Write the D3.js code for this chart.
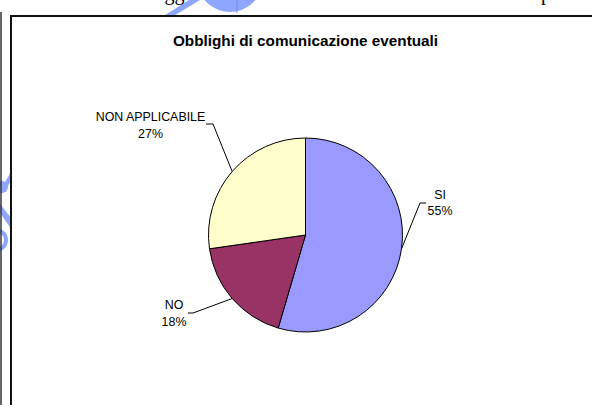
<!DOCTYPE html>
<html>
<head>
<meta charset="utf-8">
<script src="https://cdn.jsdelivr.net/npm/d3@7"></script>
<style>
html,body{margin:0;padding:0;background:#fff;}
svg{display:block;}
</style>
</head>
<body>
<svg id="chart" width="592" height="405"></svg>
<script>
// ---- data ----
const categories = ["SI", "NO", "NON APPLICABILE"];
const values = [6, 2, 3];
const colors = ["#9999FF", "#993366", "#FFFFCC"];
const title = "Obblighi di comunicazione eventuali";

// ---- layout ----
const W = 592, H = 405;
const cx = 305.5, cy = 235, R = 97;
// elbow offsets of leader lines (relative to pie centre) and label placement
const labelLayout = [
  {ex: 114.5, ey: -32, hx: 6,  tx: 20,  t1: -4, t2: 12},
  {ex: -112.5, ey: 78, hx: -5, tx: -19, t1: -4, t2: 13},
  {ex: -92.5, ey: -111, hx: -7, tx: -62.5, t1: -3, t2: 14}
];

const svg = d3.select("#chart");
svg.append("rect").attr("width", W).attr("height", H).attr("fill", "#fff");

// background document fragments (watermark + clipped text from page behind)
const wm = svg.append("g").attr("fill", "#8fa6ff").attr("stroke", "none");
wm.append("path").attr("d", "M162,17 L172,17 L200,0 L189,0 Z");
wm.append("path").attr("d", d3.arc()({innerRadius: 20, outerRadius: 33, startAngle: Math.PI * 0.55, endAngle: Math.PI * 1.45}))
  .attr("transform", "translate(230,-21)");
wm.append("line").attr("x1", 237).attr("y1", 0).attr("x2", 237).attr("y2", 13).attr("stroke", "#6f8cf0").attr("stroke-width", 1);
wm.append("circle").attr("cx", 2).attr("cy", 187).attr("r", 6);
wm.append("path").attr("d", "M12,170 L4,184 L8,186 L12,178 Z");
wm.append("path").attr("d", "M0,204 L0,213 L12,230 L12,219 Z");
wm.append("path").attr("d", d3.arc()({innerRadius: 8, outerRadius: 12, startAngle: 0, endAngle: Math.PI}))
  .attr("transform", "translate(-4,240)");

const bg = svg.append("g").attr("font-family", "'Liberation Serif','Times New Roman',serif").attr("font-size", 20).attr("fill", "#000");
bg.append("text").attr("x", 150).attr("y", -0.5).text("Oggetto");
bg.append("text").attr("x", 541).attr("y", -0.5).text("presente");

// outer page line
svg.append("line").attr("x1", 1).attr("y1", 12).attr("x2", 1).attr("y2", H).attr("stroke", "#333").attr("stroke-width", 1.5);

// chart frame
svg.append("rect").attr("x", 11).attr("y", 16).attr("width", W + 10).attr("height", H + 10)
  .attr("fill", "#fff").attr("stroke", "#111").attr("stroke-width", 2);

// title
svg.append("text").attr("x", cx).attr("y", 46).attr("text-anchor", "middle")
  .attr("font-family", "'Liberation Sans',Arial,sans-serif").attr("font-weight", "bold").attr("font-size", 15.3)
  .attr("fill", "#000").text(title);

// pie
const total = d3.sum(values);
const pie = d3.pie().sort(null).value(d => d)(values);
const arc = d3.arc().innerRadius(0).outerRadius(R);
const g = svg.append("g").attr("transform", `translate(${cx},${cy})`);
g.selectAll("path.slice").data(pie).enter().append("path")
  .attr("class", "slice").attr("d", arc)
  .attr("fill", (d, i) => colors[i]).attr("stroke", "#000").attr("stroke-width", 1);

// leader lines + labels
pie.forEach((d, i) => {
  const L = labelLayout[i];
  const a = (d.startAngle + d.endAngle) / 2;
  const px = R * Math.sin(a), py = -R * Math.cos(a);
  g.append("polyline")
    .attr("points", `${px},${py} ${L.ex},${L.ey} ${L.ex + L.hx},${L.ey}`)
    .attr("fill", "none").attr("stroke", "#000").attr("stroke-width", 1);
  const t = g.append("text").attr("text-anchor", "middle")
    .attr("font-family", "'Liberation Sans',Arial,sans-serif").attr("font-size", 12.4).attr("fill", "#000");
  t.append("tspan").attr("x", L.ex + L.tx).attr("y", L.ey + L.t1).text(categories[i]);
  t.append("tspan").attr("x", L.ex + L.tx).attr("y", L.ey + L.t2).text(Math.round(values[i] / total * 100) + "%");
});
</script>
</body>
</html>
